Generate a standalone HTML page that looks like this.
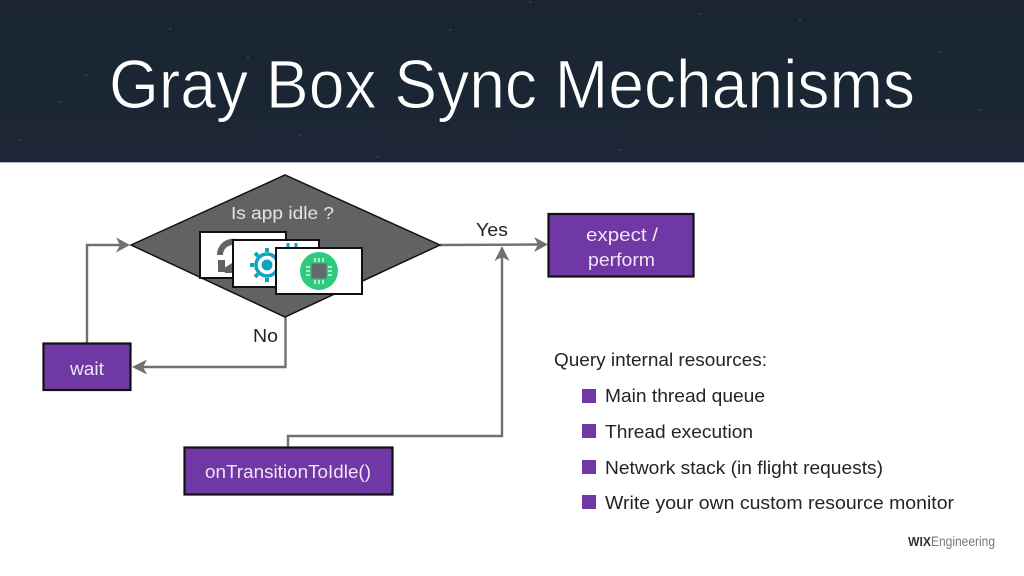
<!DOCTYPE html>
<html><head><meta charset="utf-8"><style>
html,body{margin:0;padding:0;background:#fff;width:1024px;height:576px;overflow:hidden}
svg{display:block;filter:blur(0.35px)}
text{font-family:"Liberation Sans",sans-serif}
</style></head><body>
<svg width="1024" height="576" viewBox="0 0 1024 576" xmlns="http://www.w3.org/2000/svg">
<defs><linearGradient id="bg" x1="0" y1="0" x2="0" y2="1"><stop offset="0" stop-color="#1a2531"/><stop offset="1" stop-color="#1c2636"/></linearGradient></defs>
<rect width="1024" height="576" fill="#fff"/>
<rect width="1024" height="162" fill="url(#bg)"/>
<rect y="162" width="1024" height="1" fill="#a9b0b8"/>
<g fill="#3a4654">
<circle cx="86" cy="75" r="1"/><circle cx="248" cy="57" r="1"/><circle cx="378" cy="157" r="1"/><circle cx="170" cy="29" r="1"/><circle cx="60" cy="102" r="1"/><circle cx="530" cy="2" r="1"/><circle cx="800" cy="20" r="1"/><circle cx="980" cy="110" r="1"/><circle cx="620" cy="150" r="1"/><circle cx="450" cy="30" r="1"/><circle cx="940" cy="52" r="1"/><circle cx="20" cy="140" r="1"/><circle cx="700" cy="14" r="1"/><circle cx="300" cy="135" r="1"/>
</g>
<text x="109" y="108" font-size="69" fill="#fff" stroke="#1b2634" stroke-width="1" textLength="806" lengthAdjust="spacingAndGlyphs">Gray Box Sync Mechanisms</text>

<!-- connectors -->
<g fill="none" stroke="#707070" stroke-width="2.400">
<path d="M87 343V245H122"/>
<path d="M285.500 317V367H140"/>
<path d="M440 245L540 244.500"/>
<path d="M288 447V436H502V256"/>
</g>
<g fill="#707070">
<path d="M130 245L116 237.500L120 245L116 252.500Z"/>
<path d="M132 367L147 359.500L143 367L147 374.500Z"/>
<path d="M548 244.500L534 237L538 244.500L534 252Z"/>
<path d="M502 246L494.500 261L502 257L509.500 261Z"/>
</g>

<!-- diamond -->
<path d="M131 245L285 175L440 245L285 317Z" fill="#626262" stroke="#111" stroke-width="1.500"/>
<text x="231" y="219" font-size="17.500" fill="#e6e6e6" textLength="103" lengthAdjust="spacingAndGlyphs">Is app idle ?</text>

<!-- cards -->
<rect x="200" y="232" width="86" height="46" fill="#fff" stroke="#111" stroke-width="2"/>
<path d="M217 255A16 16 0 0 1 236 239L234 245A10 10 0 0 0 223 255Z M218 260H225V272H218Z M224 268L237 260V273H225Z" fill="#636363"/>
<rect x="233" y="240" width="86" height="47" fill="#fff" stroke="#111" stroke-width="2"/>
<circle cx="267" cy="265" r="11" fill="none" stroke="#10a3bd" stroke-width="3.500"/>
<circle cx="267" cy="265" r="5.500" fill="#10a3bd"/>
<g stroke="#10a3bd" stroke-width="4"><path d="M267 248v4M267 278v4M250 265h4M280 265h4M255 253l3 3M276 274l3 3M279 253l-3 3M258 274l-3 3"/></g>
<path d="M288 243v6M296 243v6" stroke="#10a3bd" stroke-width="3"/>
<rect x="276" y="248" width="86" height="46" fill="#fff" stroke="#111" stroke-width="2"/>
<circle cx="319" cy="271" r="19" fill="#2ecb7e"/>
<rect x="311.500" y="263.500" width="15" height="15" fill="#66696c"/>
<g stroke="#fff" stroke-width="1.300"><path d="M315 258v4M319 258v4M323 258v4M315 280v4M319 280v4M323 280v4M306 267h4M306 271h4M306 275h4M328 267h4M328 271h4M328 275h4"/></g>

<!-- boxes -->
<g fill="#7038a4" stroke="#111" stroke-width="2.200">
<rect x="548.500" y="214" width="145" height="62.500"/>
<rect x="43.500" y="343.500" width="87" height="46.500"/>
<rect x="184.500" y="447.500" width="208" height="47"/>
</g>
<g fill="#eee6f4" font-size="18.500">
<text x="586" y="241" textLength="72" lengthAdjust="spacingAndGlyphs">expect /</text>
<text x="588" y="266" textLength="67" lengthAdjust="spacingAndGlyphs">perform</text>
<text x="70" y="375" textLength="34" lengthAdjust="spacingAndGlyphs">wait</text>
<text x="205" y="478" textLength="166" lengthAdjust="spacingAndGlyphs">onTransitionToIdle()</text>
</g>

<!-- labels -->
<g fill="#242424" font-size="18.500">
<text x="476" y="236" textLength="32" lengthAdjust="spacingAndGlyphs">Yes</text>
<text x="253" y="342" textLength="25" lengthAdjust="spacingAndGlyphs">No</text>
<text x="554" y="366" textLength="213" lengthAdjust="spacingAndGlyphs">Query internal resources:</text>
<text x="605" y="402" textLength="160" lengthAdjust="spacingAndGlyphs">Main thread queue</text>
<text x="605" y="438" textLength="148" lengthAdjust="spacingAndGlyphs">Thread execution</text>
<text x="605" y="474" textLength="278" lengthAdjust="spacingAndGlyphs">Network stack (in flight requests)</text>
<text x="605" y="509" textLength="349" lengthAdjust="spacingAndGlyphs">Write your own custom resource monitor</text>
</g>
<g fill="#7038a4">
<rect x="582" y="389" width="14" height="14"/>
<rect x="582" y="424" width="14" height="14"/>
<rect x="582" y="460" width="14" height="14"/>
<rect x="582" y="495" width="14" height="14"/>
</g>

<!-- logo -->
<text x="908" y="546" font-size="13" font-weight="bold" fill="#333" textLength="23" lengthAdjust="spacingAndGlyphs">WIX</text>
<text x="931" y="546" font-size="13.500" fill="#777" textLength="64" lengthAdjust="spacingAndGlyphs">Engineering</text>
</svg>
</body></html>
